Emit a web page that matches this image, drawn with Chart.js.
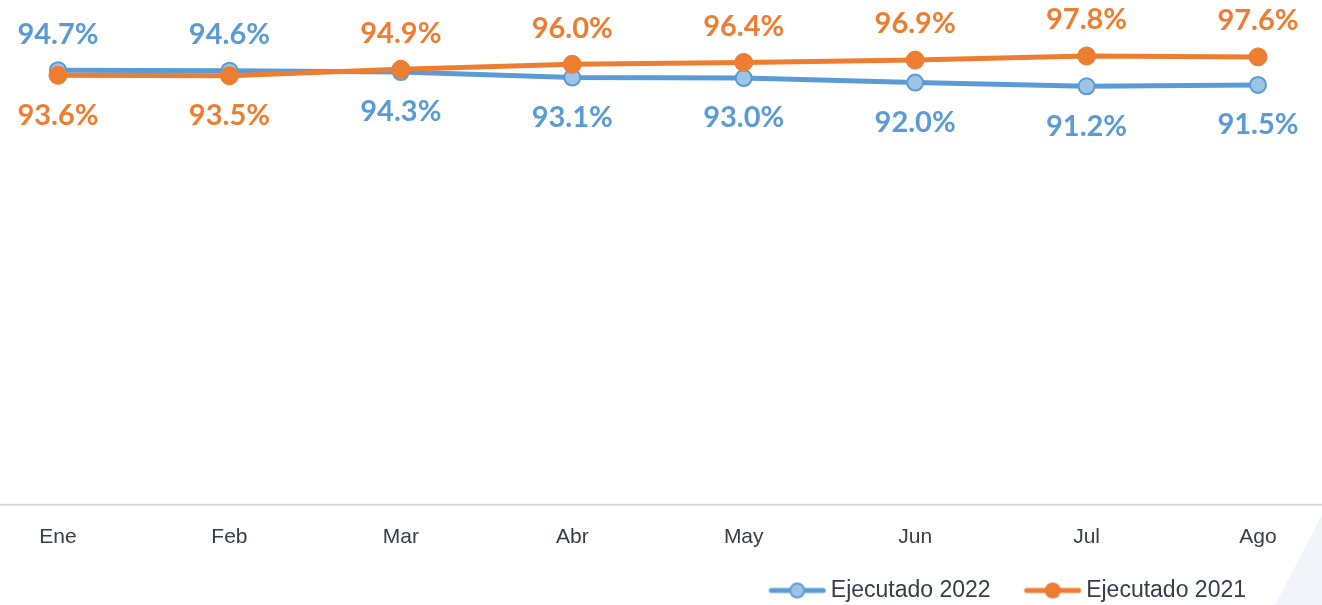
<!DOCTYPE html>
<html>
<head>
<meta charset="utf-8">
<script src="https://cdn.jsdelivr.net/npm/chart.js@4"></script>
<style>
  html, body { margin: 0; padding: 0; background: #fff; }
  #wrap { position: relative; width: 1322px; height: 605px; overflow: hidden; }
  #deco { position: absolute; left: 0; top: 0; width: 1322px; height: 605px;
          background: #f1f4f9; clip-path: polygon(1322px 515px, 1322px 605px, 1275px 605px); }
  canvas { position: relative; }
</style>
</head>
<body>
<div id="wrap">
  <div id="deco"></div>
  <canvas id="chart" width="1322" height="605"></canvas>
</div>
<script>
// ==================== DATA ====================
const months = ["Ene", "Feb", "Mar", "Abr", "May", "Jun", "Jul", "Ago"];
const exec2022 = [94.7, 94.6, 94.3, 93.1, 93.0, 92.0, 91.2, 91.5];
const exec2021 = [93.6, 93.5, 94.9, 96.0, 96.4, 96.9, 97.8, 97.6];
const seriesNames = ["Ejecutado 2022", "Ejecutado 2021"];

const BLUE = "#5b9bd5";
const BLUE_FILL = "#9dc3e6";
const ORANGE = "#ed7d31";
const TEXT = "#333d4b";

// legend marker: short line with a dot in the middle (transparent margin on the left)
function legendMarker(lineColor, fill, border) {
  const c = document.createElement("canvas");
  c.width = 96; c.height = 20;
  const g = c.getContext("2d");
  g.strokeStyle = lineColor;
  g.lineWidth = 5;
  g.lineCap = "round";
  g.beginPath(); g.moveTo(40, 10); g.lineTo(92, 10); g.stroke();
  g.beginPath(); g.arc(66, 10, 7, 0, Math.PI * 2);
  g.fillStyle = fill; g.fill();
  g.lineWidth = 2; g.strokeStyle = border; g.stroke();
  return c;
}

// ==================== PLUGINS ====================
const fullWidthAxisLine = {
  id: "fullWidthAxisLine",
  afterLayout(chart) {
    // nudge the legend a little left and down
    if (chart.legend) {
      chart.legend.left -= 8;
      chart.legend.right -= 8;
      chart.legend.top += 5;
      chart.legend.bottom += 5;
    }
  },
  beforeDatasetsDraw(chart) {
    const ctx = chart.ctx;
    const y = chart.chartArea.bottom;
    ctx.save();
    ctx.strokeStyle = "#d9d9d9";
    ctx.lineWidth = 2;
    ctx.beginPath(); ctx.moveTo(0, y); ctx.lineTo(chart.width, y); ctx.stroke();
    ctx.restore();
  }
};

const valueLabels = {
  id: "valueLabels",
  afterDatasetsDraw(chart) {
    const ctx = chart.ctx;
    ctx.save();
    ctx.font = "bold 29px Lato, 'Open Sans', sans-serif";
    ctx.textAlign = "center";
    ctx.textBaseline = "middle";
    chart.data.datasets.forEach((ds, di) => {
      const other = chart.data.datasets[1 - di].data;
      chart.getDatasetMeta(di).data.forEach((pt, i) => {
        const above = ds.data[i] >= other[i];
        ctx.fillStyle = ds.borderColor;
        ctx.fillText(ds.data[i].toFixed(1) + "%", pt.x, pt.y + (above ? -36 : 40));
      });
    });
    ctx.restore();
  }
};

// ==================== CHART ====================
new Chart(document.getElementById("chart"), {
  type: "line",
  data: {
    labels: months,
    datasets: [
      {
        label: seriesNames[0],
        data: exec2022,
        borderColor: BLUE,
        backgroundColor: BLUE_FILL,
        pointBackgroundColor: BLUE_FILL,
        pointBorderColor: BLUE,
        pointBorderWidth: 2,
        pointRadius: 8,
        borderWidth: 5,
        order: 1,
        legendImg: legendMarker(BLUE, BLUE_FILL, BLUE)
      },
      {
        label: seriesNames[1],
        data: exec2021,
        borderColor: ORANGE,
        backgroundColor: ORANGE,
        pointBackgroundColor: ORANGE,
        pointBorderColor: ORANGE,
        pointBorderWidth: 1,
        pointRadius: 9,
        borderWidth: 5,
        order: 0,
        legendImg: legendMarker(ORANGE, ORANGE, ORANGE)
      }
    ]
  },
  options: {
    responsive: false,
    animation: false,
    layout: { autoPadding: false, padding: { left: 58, right: 64, top: 0, bottom: -2 } },
    plugins: {
      tooltip: { enabled: false },
      legend: {
        position: "bottom",
        align: "end",
        labels: {
          usePointStyle: true,
          pointStyleWidth: 80,
          color: TEXT,
          font: { family: "'Liberation Sans', Arial, sans-serif", size: 23 },
          padding: 4,
          generateLabels(chart) {
            return chart.data.datasets.map((ds, i) => ({
              text: ds.label,
              pointStyle: ds.legendImg,
              fillStyle: ds.backgroundColor,
              strokeStyle: ds.borderColor,
              lineWidth: 0,
              fontColor: TEXT,
              hidden: false,
              datasetIndex: i
            }));
          }
        }
      }
    },
    scales: {
      x: {
        grid: { display: false, drawTicks: false },
        border: { display: false },
        ticks: {
          color: TEXT,
          padding: 20,
          font: { family: "'Liberation Sans', Arial, sans-serif", size: 21 }
        }
      },
      y: { display: false, min: 0, max: 110 }
    }
  },
  plugins: [fullWidthAxisLine, valueLabels]
});
</script>
</body>
</html>
